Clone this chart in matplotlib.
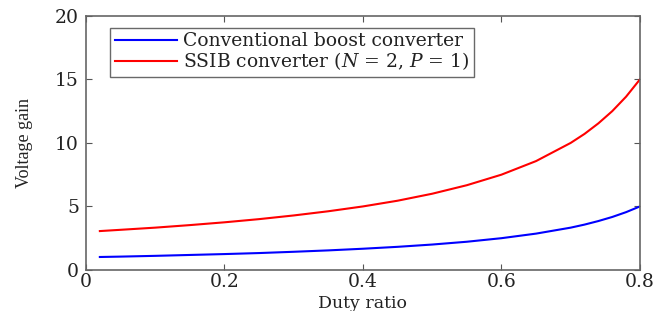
import matplotlib
matplotlib.use("Agg")
import matplotlib.pyplot as plt
from matplotlib.font_manager import FontProperties

plt.rcParams['font.family'] = ['DejaVu Serif']
plt.rcParams['mathtext.fontset'] = 'custom'
plt.rcParams['mathtext.rm'] = 'DejaVu Serif'
plt.rcParams['mathtext.it'] = 'DejaVu Serif:italic'

duty = [0.02, 0.05, 0.1, 0.15, 0.2, 0.25, 0.3, 0.35, 0.4, 0.45, 0.5, 0.55,
        0.6, 0.65, 0.7, 0.72, 0.74, 0.76, 0.78, 0.8]
boost_gain = [1.02, 1.05, 1.11, 1.18, 1.25, 1.33, 1.43, 1.54, 1.67, 1.82, 2.0,
              2.22, 2.5, 2.86, 3.33, 3.57, 3.85, 4.17, 4.55, 5.0]
ssib_gain = [3.06, 3.16, 3.33, 3.53, 3.75, 4.0, 4.29, 4.62, 5.0, 5.45, 6.0,
             6.67, 7.5, 8.57, 10.0, 10.71, 11.54, 12.5, 13.64, 15.0]
labels = ['Conventional boost converter',
          'SSIB converter ($N$ = 2, $P$ = 1)']
xticks = [0, 0.2, 0.4, 0.6, 0.8]
xticklabels = ['0', '0.2', '0.4', '0.6', '0.8']
yticks = [0, 5, 10, 15, 20]

fig = plt.figure(figsize=(6.54, 3.11), dpi=100)
ax = fig.add_axes([0.1315, 0.132, 0.847, 0.817])
ax.plot(duty, boost_gain, color='#0000ff', lw=1.5, label=labels[0])
ax.plot(duty, ssib_gain, color='#ff0000', lw=1.5, label=labels[1])
ax.set_xlim(0, 0.8)
ax.set_ylim(0, 20)
ax.set_xticks(xticks)
ax.set_xticklabels(xticklabels)
ax.set_yticks(yticks)
ax.tick_params(direction='in', top=True, right=True, labelsize=13.5, length=4,
               color='#555555', labelcolor='#222222')
ax.tick_params(axis='x', pad=2)
ax.tick_params(axis='y', pad=5)
for s in ax.spines.values():
    s.set_color('#666666')
    s.set_linewidth(1.2)
ax.set_xlabel('Duty ratio', fontsize=12.5, labelpad=3, color='#222222')
ylab_fp = FontProperties(family='Liberation Serif', size=13)
ax.set_ylabel('Voltage gain', fontproperties=ylab_fp, labelpad=16,
              color='#222222')
leg = ax.legend(loc='upper left', bbox_to_anchor=(0.0433, 0.953), fontsize=13.5,
                frameon=True, fancybox=False, edgecolor='#444444',
                handlelength=3.3, handletextpad=0.37, borderpad=0.25,
                labelspacing=0.0, borderaxespad=0)
leg.get_frame().set_linewidth(1.0)
for t in leg.get_texts():
    t.set_color('#222222')
fig.savefig('out.png', dpi=100)
